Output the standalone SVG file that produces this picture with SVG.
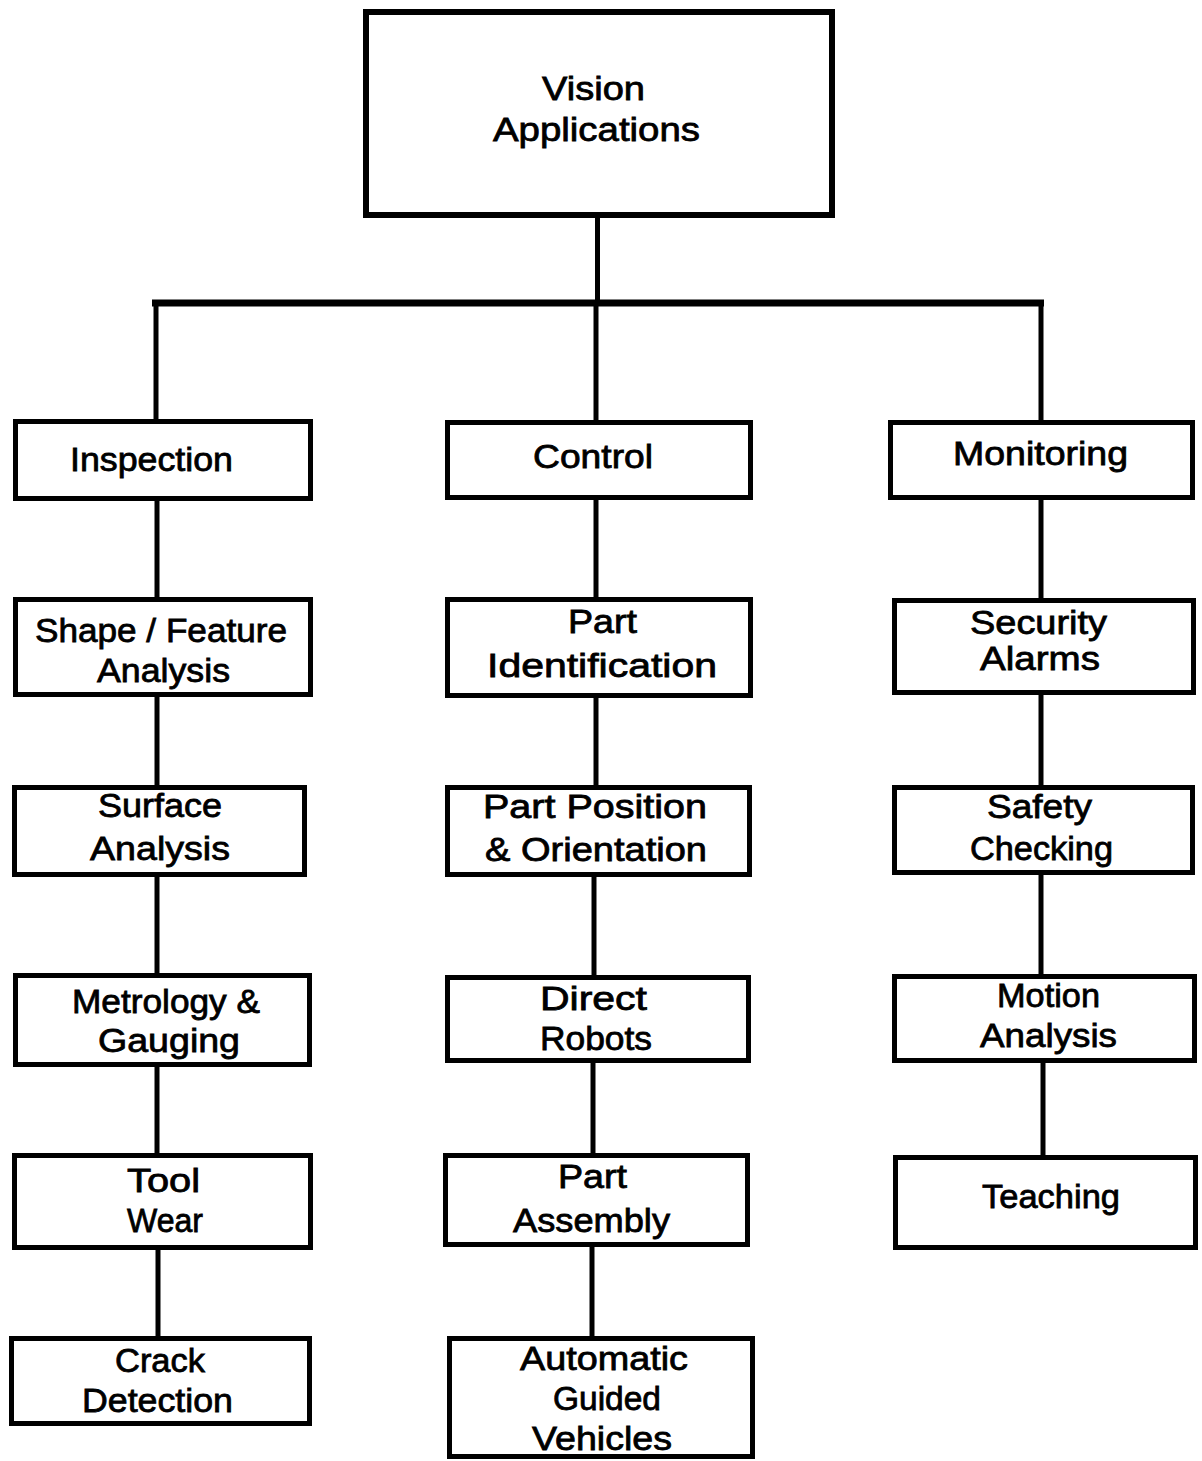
<svg xmlns="http://www.w3.org/2000/svg" width="1202" height="1461" viewBox="0 0 1202 1461">
<style>
.box{fill:#fff;stroke:#000;stroke-width:5}
.t{font-family:"Liberation Sans",Arial,sans-serif;font-size:34px;fill:#000;stroke:#000;stroke-width:0.8}
.c{stroke:#000;stroke-width:5;fill:none}
</style>
<rect width="1202" height="1461" fill="#fff"/>
<g id="connectors">
<line class="c" x1="597.5" y1="216" x2="597.5" y2="303"/>
<line class="c" x1="152" y1="303" x2="1044" y2="303" style="stroke-width:7"/>
<line class="c" x1="156" y1="300" x2="156" y2="421"/>
<line class="c" x1="596" y1="300" x2="596" y2="422"/>
<line class="c" x1="1041" y1="300" x2="1041" y2="422"/>
<line class="c" x1="157" y1="499" x2="157" y2="599"/>
<line class="c" x1="157" y1="695" x2="157" y2="787"/>
<line class="c" x1="157" y1="875" x2="157" y2="975"/>
<line class="c" x1="157" y1="1065" x2="157" y2="1155"/>
<line class="c" x1="158" y1="1248" x2="158" y2="1338"/>
<line class="c" x1="596" y1="498" x2="596" y2="599"/>
<line class="c" x1="596" y1="696" x2="596" y2="787"/>
<line class="c" x1="594" y1="875" x2="594" y2="977"/>
<line class="c" x1="593" y1="1061" x2="593" y2="1155"/>
<line class="c" x1="592" y1="1245" x2="592" y2="1338"/>
<line class="c" x1="1041" y1="498" x2="1041" y2="600"/>
<line class="c" x1="1041" y1="693" x2="1041" y2="787"/>
<line class="c" x1="1041" y1="873" x2="1041" y2="976"/>
<line class="c" x1="1043" y1="1061" x2="1043" y2="1157"/>
</g>
<g id="vision-applications">
<rect class="box" x="366" y="12" width="466" height="203" style="stroke-width:6"/>
<text class="t" x="542" y="100" textLength="103" lengthAdjust="spacingAndGlyphs">Vision</text>
<text class="t" x="493" y="141" textLength="207" lengthAdjust="spacingAndGlyphs">Applications</text>
</g>
<g id="inspection">
<rect class="box" x="15.5" y="421.5" width="295" height="77"/>
<text class="t" x="70" y="471" textLength="163" lengthAdjust="spacingAndGlyphs">Inspection</text>
</g>
<g id="control">
<rect class="box" x="447.5" y="422.5" width="303" height="75"/>
<text class="t" x="533" y="468" textLength="120" lengthAdjust="spacingAndGlyphs">Control</text>
</g>
<g id="monitoring">
<rect class="box" x="890.5" y="422.5" width="302" height="75"/>
<text class="t" x="953" y="465" textLength="175" lengthAdjust="spacingAndGlyphs">Monitoring</text>
</g>
<g id="shape-feature-analysis">
<rect class="box" x="15.5" y="599.5" width="295" height="95"/>
<text class="t" x="35" y="642" textLength="252" lengthAdjust="spacingAndGlyphs">Shape / Feature</text>
<text class="t" x="97" y="682" textLength="133" lengthAdjust="spacingAndGlyphs">Analysis</text>
</g>
<g id="part-identification">
<rect class="box" x="447.5" y="599.5" width="303" height="96"/>
<text class="t" x="568" y="633" textLength="69" lengthAdjust="spacingAndGlyphs">Part</text>
<text class="t" x="487" y="677" textLength="230" lengthAdjust="spacingAndGlyphs">Identification</text>
</g>
<g id="security-alarms">
<rect class="box" x="894.5" y="600.5" width="299" height="92"/>
<text class="t" x="970" y="634" textLength="137" lengthAdjust="spacingAndGlyphs">Security</text>
<text class="t" x="980" y="670" textLength="120" lengthAdjust="spacingAndGlyphs">Alarms</text>
</g>
<g id="surface-analysis">
<rect class="box" x="14.5" y="787.5" width="290" height="87"/>
<text class="t" x="98" y="817" textLength="124" lengthAdjust="spacingAndGlyphs">Surface</text>
<text class="t" x="90" y="860" textLength="140" lengthAdjust="spacingAndGlyphs">Analysis</text>
</g>
<g id="part-position-orientation">
<rect class="box" x="447.5" y="787.5" width="302" height="87"/>
<text class="t" x="483" y="818" textLength="224" lengthAdjust="spacingAndGlyphs">Part Position</text>
<text class="t" x="485" y="861" textLength="222" lengthAdjust="spacingAndGlyphs">&amp; Orientation</text>
</g>
<g id="safety-checking">
<rect class="box" x="894.5" y="787.5" width="298" height="85"/>
<text class="t" x="987" y="818" textLength="105" lengthAdjust="spacingAndGlyphs">Safety</text>
<text class="t" x="970" y="860" textLength="143" lengthAdjust="spacingAndGlyphs">Checking</text>
</g>
<g id="metrology-gauging">
<rect class="box" x="15.5" y="975.5" width="294" height="89"/>
<text class="t" x="72" y="1013" textLength="188" lengthAdjust="spacingAndGlyphs">Metrology &amp;</text>
<text class="t" x="98" y="1052" textLength="142" lengthAdjust="spacingAndGlyphs">Gauging</text>
</g>
<g id="direct-robots">
<rect class="box" x="447.5" y="977.5" width="301" height="83"/>
<text class="t" x="540" y="1010" textLength="107" lengthAdjust="spacingAndGlyphs">Direct</text>
<text class="t" x="540" y="1050" textLength="112" lengthAdjust="spacingAndGlyphs">Robots</text>
</g>
<g id="motion-analysis">
<rect class="box" x="894.5" y="976.5" width="300" height="84"/>
<text class="t" x="997" y="1007" textLength="103" lengthAdjust="spacingAndGlyphs">Motion</text>
<text class="t" x="980" y="1047" textLength="137" lengthAdjust="spacingAndGlyphs">Analysis</text>
</g>
<g id="tool-wear">
<rect class="box" x="14.5" y="1155.5" width="296" height="92"/>
<text class="t" x="127" y="1192" textLength="73" lengthAdjust="spacingAndGlyphs">Tool</text>
<text class="t" x="127" y="1232" textLength="76" lengthAdjust="spacingAndGlyphs">Wear</text>
</g>
<g id="part-assembly">
<rect class="box" x="445.5" y="1155.5" width="302" height="89"/>
<text class="t" x="558" y="1188" textLength="69" lengthAdjust="spacingAndGlyphs">Part</text>
<text class="t" x="513" y="1232" textLength="157" lengthAdjust="spacingAndGlyphs">Assembly</text>
</g>
<g id="teaching">
<rect class="box" x="895.5" y="1157.5" width="300" height="90"/>
<text class="t" x="982" y="1208" textLength="138" lengthAdjust="spacingAndGlyphs">Teaching</text>
</g>
<g id="crack-detection">
<rect class="box" x="11.5" y="1338.5" width="298" height="85"/>
<text class="t" x="115" y="1372" textLength="90" lengthAdjust="spacingAndGlyphs">Crack</text>
<text class="t" x="82" y="1412" textLength="151" lengthAdjust="spacingAndGlyphs">Detection</text>
</g>
<g id="automatic-guided-vehicles">
<rect class="box" x="449.5" y="1338.5" width="303" height="118"/>
<text class="t" x="520" y="1370" textLength="168" lengthAdjust="spacingAndGlyphs">Automatic</text>
<text class="t" x="553" y="1410" textLength="108" lengthAdjust="spacingAndGlyphs">Guided</text>
<text class="t" x="532" y="1450" textLength="140" lengthAdjust="spacingAndGlyphs">Vehicles</text>
</g>
</svg>
